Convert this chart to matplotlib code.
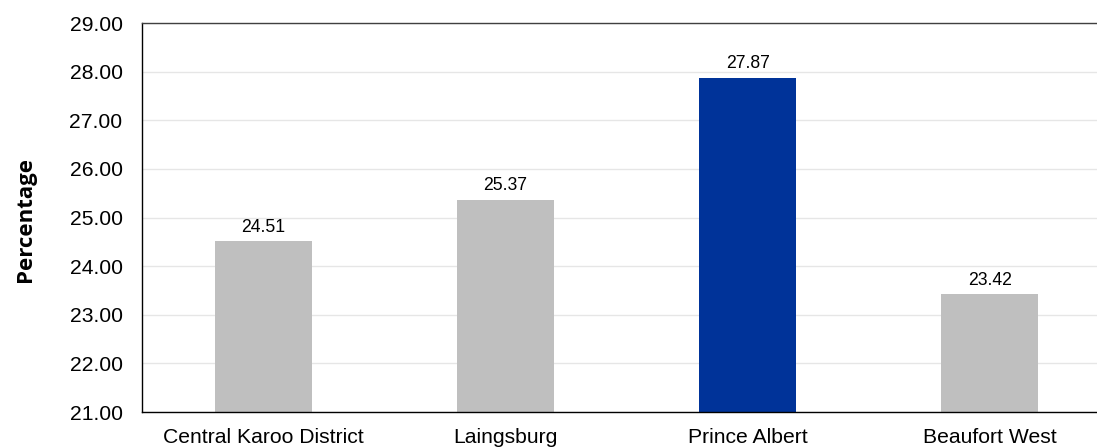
import matplotlib
matplotlib.use("Agg")
import matplotlib.pyplot as plt
import numpy as np

categories = ["Central Karoo District", "Laingsburg", "Prince Albert", "Beaufort West"]
values = [24.51, 25.37, 27.87, 23.42]
colors = ["#BFBFBF", "#BFBFBF", "#003399", "#BFBFBF"]
yticks = [21, 22, 23, 24, 25, 26, 27, 28, 29]

plt.rcParams['font.family'] = ['Liberation Sans', 'DejaVu Sans']

W, H = 1097, 448
fig = plt.figure(figsize=(W / 100, H / 100), dpi=100)
ax_left, ax_right, ax_top, ax_bottom = 142, 1111, 23, 412
ax = fig.add_axes([ax_left / W, 1 - ax_bottom / H, (ax_right - ax_left) / W, (ax_bottom - ax_top) / H])

x = np.arange(len(categories))
ax.bar(x, values, width=0.40, color=colors, zorder=2)
for xi, v in zip(x, values):
    ax.annotate(f"{v:.2f}", (xi, v), xytext=(0, 4), textcoords="offset points",
                ha="center", va="bottom", fontsize=12.7, color="#000000")

ax.set_xlim(-0.5, len(categories) - 0.5)
ax.set_ylim(21, 29)
ax.set_yticks(yticks)
ax.set_yticklabels([f"{t:.2f}" for t in yticks])
ax.set_xticks(x)
ax.set_xticklabels(categories)
ax.tick_params(axis='y', length=0, pad=14, labelsize=15.2)
ax.tick_params(axis='x', length=0, pad=11.5, labelsize=15.2)
ax.grid(axis='y', color="#E6E6E6", linewidth=1, zorder=0)
ax.set_axisbelow(True)

ax.spines['right'].set_visible(False)
ax.spines['top'].set_color("#404040")
ax.spines['left'].set_color("#000000")
ax.spines['bottom'].set_color("#000000")
for s in ['top', 'left', 'bottom']:
    ax.spines[s].set_linewidth(1)

fig.text(25 / W, 1 - 219.5 / H, "Percentage", rotation=90, ha="center", va="center",
         fontsize=16, fontweight='bold', family=['Open Sans', 'DejaVu Sans'])

fig.savefig("out.png", dpi=100)
